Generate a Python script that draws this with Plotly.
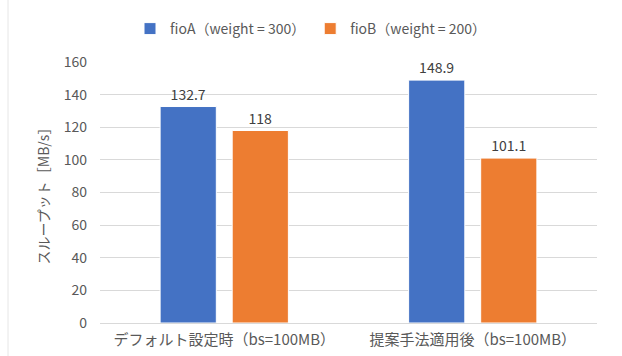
import plotly.graph_objects as go

categories = ["デフォルト設定時（bs=100MB）", "提案手法適用後（bs=100MB）"]
series_names = ["fioA（weight = 300）", "fioB（weight = 200）"]
fioA = [132.7, 148.9]
fioB = [118, 101.1]
fioA_labels = ["132.7", "148.9"]
fioB_labels = ["118", "101.1"]
y_ticks = [0, 20, 40, 60, 80, 100, 120, 140, 160]

FONT = "Noto Sans CJK JP"
fig = go.Figure()
fig.add_trace(go.Bar(x=categories, y=fioA, name=series_names[0], marker_color="#4472C4",
                     marker_line=dict(color="white", width=1),
                     text=fioA_labels, textposition="outside", cliponaxis=False,
                     textfont=dict(size=14, color="#404040", family=FONT)))
fig.add_trace(go.Bar(x=categories, y=fioB, name=series_names[1], marker_color="#ED7D31",
                     marker_line=dict(color="white", width=1),
                     text=fioB_labels, textposition="outside", cliponaxis=False,
                     textfont=dict(size=14, color="#404040", family=FONT)))

fig.update_layout(
    width=622, height=356,
    margin=dict(l=100, r=25, t=62, b=33),
    paper_bgcolor="white", plot_bgcolor="white",
    font=dict(family=FONT, color="#595959", size=14),
    barmode="group", bargap=0.42, bargroupgap=0.22,
    legend=dict(orientation="h", xref="container", yref="container", x=0.5, xanchor="center",
                y=1 - 29 / 356, yanchor="middle", font=dict(size=14, color="#595959"),
                itemwidth=30, traceorder="normal"),
    xaxis=dict(showgrid=False, showline=False, ticks="", ticklabelstandoff=6, automargin=False,
               tickfont=dict(size=15, color="#595959")),
    yaxis=dict(range=[0, 160], tickvals=y_ticks, showgrid=True, gridcolor="#D9D9D9", gridwidth=1,
               zeroline=True, zerolinecolor="#D9D9D9", zerolinewidth=1, ticks="", ticklabelstandoff=12,
               automargin=False,
               title=dict(text="スループット［MB/s］", font=dict(size=14, color="#595959"), standoff=10),
               tickfont=dict(size=14, color="#595959")),
    showlegend=True,
)
fig.add_shape(type="line", xref="paper", yref="paper",
              x0=(8 - 100) / 497, x1=(8 - 100) / 497, y0=-33 / 261, y1=1 + 62 / 261,
              line=dict(color="#E6E6E6", width=1))
fig.write_html("out.html")
